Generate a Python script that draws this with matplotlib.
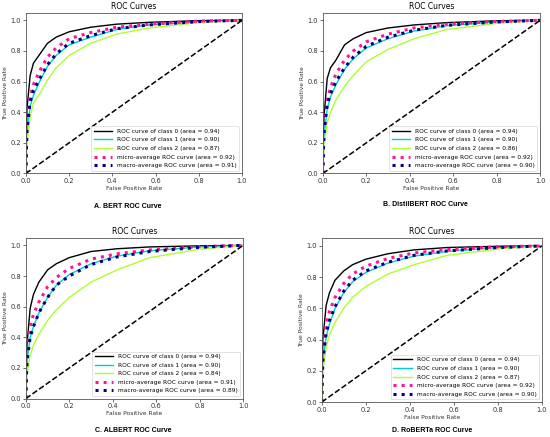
import matplotlib
matplotlib.use("Agg")
import matplotlib.pyplot as plt

# false positive rate grid shared by all curves
fpr = [0.0, 0.005, 0.02, 0.035, 0.06, 0.1, 0.14, 0.2, 0.3, 0.42, 0.57, 0.8, 1.0]

# A. BERT
bert_c0 = [0.0, 0.42, 0.64, 0.72, 0.77, 0.85, 0.89, 0.925, 0.955, 0.975, 0.987, 0.998, 1.0]
bert_c1 = [0.0, 0.25, 0.44, 0.51, 0.59, 0.70, 0.77, 0.84, 0.89, 0.94, 0.97, 0.99, 1.0]
bert_c2 = [0.0, 0.20, 0.37, 0.46, 0.51, 0.61, 0.69, 0.77, 0.85, 0.91, 0.95, 0.985, 1.0]
bert_micro = [0.0, 0.32, 0.50, 0.58, 0.66, 0.76, 0.82, 0.88, 0.92, 0.955, 0.975, 0.995, 1.0]
bert_macro = [0.0, 0.28, 0.47, 0.54, 0.61, 0.71, 0.78, 0.85, 0.90, 0.945, 0.97, 0.992, 1.0]
bert_auc = [0.94, 0.90, 0.87, 0.92, 0.91]

# B. DistilBERT
distil_c0 = [0.0, 0.37, 0.62, 0.69, 0.74, 0.84, 0.88, 0.92, 0.95, 0.97, 0.985, 0.997, 1.0]
distil_c1 = [0.0, 0.24, 0.42, 0.50, 0.58, 0.68, 0.75, 0.82, 0.88, 0.93, 0.965, 0.99, 1.0]
distil_c2 = [0.0, 0.18, 0.33, 0.40, 0.48, 0.57, 0.64, 0.73, 0.81, 0.88, 0.94, 0.98, 1.0]
distil_micro = [0.0, 0.30, 0.48, 0.56, 0.65, 0.74, 0.80, 0.86, 0.91, 0.95, 0.975, 0.993, 1.0]
distil_macro = [0.0, 0.26, 0.45, 0.52, 0.60, 0.69, 0.76, 0.83, 0.89, 0.935, 0.967, 0.99, 1.0]
distil_auc = [0.94, 0.90, 0.86, 0.92, 0.90]

# C. ALBERT
albert_c0 = [0.0, 0.35, 0.59, 0.68, 0.76, 0.84, 0.88, 0.92, 0.96, 0.978, 0.99, 0.997, 1.0]
albert_c1 = [0.0, 0.24, 0.40, 0.47, 0.56, 0.66, 0.74, 0.81, 0.88, 0.93, 0.965, 0.99, 1.0]
albert_c2 = [0.0, 0.16, 0.28, 0.35, 0.42, 0.51, 0.58, 0.66, 0.76, 0.84, 0.92, 0.975, 1.0]
albert_micro = [0.0, 0.30, 0.47, 0.55, 0.63, 0.73, 0.79, 0.85, 0.91, 0.945, 0.97, 0.992, 1.0]
albert_macro = [0.0, 0.24, 0.40, 0.47, 0.56, 0.66, 0.74, 0.80, 0.875, 0.925, 0.96, 0.988, 1.0]
albert_auc = [0.94, 0.90, 0.84, 0.91, 0.89]

# D. RoBERTa
roberta_c0 = [0.0, 0.40, 0.62, 0.70, 0.78, 0.84, 0.88, 0.915, 0.95, 0.975, 0.99, 0.998, 1.0]
roberta_c1 = [0.0, 0.25, 0.42, 0.50, 0.60, 0.70, 0.77, 0.83, 0.89, 0.935, 0.965, 0.99, 1.0]
roberta_c2 = [0.0, 0.20, 0.35, 0.43, 0.51, 0.60, 0.67, 0.74, 0.82, 0.88, 0.94, 0.98, 1.0]
roberta_micro = [0.0, 0.32, 0.50, 0.58, 0.67, 0.76, 0.82, 0.87, 0.92, 0.955, 0.977, 0.995, 1.0]
roberta_macro = [0.0, 0.27, 0.44, 0.52, 0.61, 0.71, 0.78, 0.84, 0.895, 0.94, 0.968, 0.99, 1.0]
roberta_auc = [0.94, 0.90, 0.87, 0.92, 0.90]

captions = ["A. BERT ROC Curve", "B. DistilBERT ROC Curve",
            "C. ALBERT ROC Curve", "D. RoBERTa ROC Curve"]
ticks = [0.0, 0.2, 0.4, 0.6, 0.8, 1.0]

panels = [
    (bert_c0, bert_c1, bert_c2, bert_micro, bert_macro, bert_auc),
    (distil_c0, distil_c1, distil_c2, distil_micro, distil_macro, distil_auc),
    (albert_c0, albert_c1, albert_c2, albert_micro, albert_macro, albert_auc),
    (roberta_c0, roberta_c1, roberta_c2, roberta_micro, roberta_macro, roberta_auc),
]

rects = [
    [0.047, 0.603, 0.393, 0.368],
    [0.587, 0.603, 0.395, 0.368],
    [0.047, 0.088, 0.395, 0.368],
    [0.585, 0.080, 0.400, 0.375],
]
# caption centres in figure pixels (x from left, y from top)
cap_pos = [(128, 207), (425, 205), (133, 431), (432, 430)]

fig = plt.figure(figsize=(5.5, 4.37), dpi=100)

for i in range(4):
    c0, c1, c2, micro, macro, auc = panels[i]
    ax = fig.add_axes(rects[i])
    ax.plot(fpr, c0, color="black", lw=1,
            label="ROC curve of class 0 (area = %.2f)" % auc[0])
    ax.plot(fpr, c1, color="darkturquoise", lw=1,
            label="ROC curve of class 1 (area = %.2f)" % auc[1])
    ax.plot(fpr, c2, color="greenyellow", lw=1,
            label="ROC curve of class 2 (area = %.2f)" % auc[2])
    ax.plot(fpr, micro, color="deeppink", lw=2.2, linestyle=":",
            label="micro-average ROC curve (area = %.2f)" % auc[3])
    ax.plot(fpr, macro, color="navy", lw=2.2, linestyle=":",
            label="macro-average ROC curve (area = %.2f)" % auc[4])
    ax.plot([0, 1], [0, 1], "k--", lw=1.1)
    ax.set_xlim(0.0, 1.0)
    ax.set_ylim(0.0, 1.05)
    ax.set_xticks(ticks)
    ax.set_yticks(ticks)
    ax.tick_params(labelsize=4.8, length=2, width=0.5, pad=1.5, colors="#333333")
    for s in ax.spines.values():
        s.set_linewidth(0.6)
        s.set_color("#555555")
    ax.set_title("ROC Curves", fontsize=5.5, pad=3)
    ax.set_xlabel("False Positive Rate", fontsize=4.3, labelpad=1.5, color="#333333")
    ax.set_ylabel("True Positive Rate", fontsize=4.3, labelpad=1.5, color="#333333")
    leg = ax.legend(loc="lower right", fontsize=4.2, handlelength=3.2,
                    borderaxespad=0.5, labelspacing=0.6)
    leg.get_frame().set_linewidth(0.5)
    # caption under each panel
    cx, cy = cap_pos[i]
    fig.text(cx / 550, 1 - cy / 437, captions[i], ha="center", va="center",
             fontsize=5, fontweight="bold", family="Liberation Sans")

fig.savefig("out.png", dpi=100)
